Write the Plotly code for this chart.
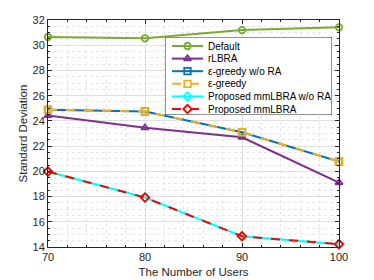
import plotly.graph_objects as go

users = [70, 80, 90, 100]
default_sd = [30.65, 30.55, 31.2, 31.42]
rlbra_sd = [24.42, 23.45, 22.7, 19.1]
eps_wo_ra_sd = [24.88, 24.75, 23.1, 20.77]
eps_sd = [24.88, 24.75, 23.1, 20.77]
prop_wo_ra_sd = [19.98, 17.92, 14.85, 14.22]
prop_sd = [19.98, 17.92, 14.85, 14.22]

names = ["Default", "rLBRA", "ε-greedy w/o RA", "ε-greedy",
         "Proposed mmLBRA w/o RA", "Proposed mmLBRA"]
colors = ["#77AC30", "#7E2F8E", "#0072BD", "#EDB120", "#00FFFF", "#FF0000"]
dashes = ["solid", "solid", "solid", "dash", "solid", "dash"]
symbols = ["circle-open", "triangle-up-open", "square-open", "square-open",
           "diamond-open", "diamond-open"]
series = [default_sd, rlbra_sd, eps_wo_ra_sd, eps_sd, prop_wo_ra_sd, prop_sd]

FONT = "Liberation Sans, Arial, Helvetica, sans-serif"

fig = go.Figure()
for name, col, dsh, sym, vals in zip(names, colors, dashes, symbols, series):
    fig.add_trace(go.Scatter(
        x=users, y=vals, name=name, mode="lines+markers",
        line=dict(color=col, width=2, dash=dsh),
        marker=dict(symbol=sym, size=6.5, color=col, line=dict(color=col, width=1.8)),
        showlegend=False, xaxis="x", yaxis="y", cliponaxis=False))

# custom compact legend drawn on an inset axis (units: pixels inside the box)
box_w, box_h = 167, 78
row0, row_step = 9, 12.6
for i, (name, col, dsh, sym) in enumerate(zip(names, colors, dashes, symbols)):
    ry = row0 + row_step * i
    fig.add_trace(go.Scatter(
        x=[7, 38], y=[ry, ry], mode="lines",
        line=dict(color=col, width=2, dash=dsh),
        showlegend=False, hoverinfo="skip", xaxis="x2", yaxis="y2"))
    fig.add_trace(go.Scatter(
        x=[22.5], y=[ry], mode="markers",
        marker=dict(symbol=sym, size=6.5, color=col, line=dict(color=col, width=1.8)),
        showlegend=False, hoverinfo="skip", xaxis="x2", yaxis="y2"))
    fig.add_annotation(x=41, y=ry, xref="x2", yref="y2", text=name,
                       showarrow=False, xanchor="left", yanchor="middle",
                       font=dict(family=FONT, size=10, color="#000000"))

fig.add_shape(type="rect", xref="x2", yref="y2", x0=0, x1=box_w, y0=0, y1=box_h,
              fillcolor="white", line=dict(color="#262626", width=1), layer="below")

axis_common = dict(
    showline=True, linecolor="#262626", linewidth=1, mirror="ticks",
    ticks="inside", ticklen=4, tickcolor="#262626",
    showgrid=True, gridcolor="#DFDFDF", gridwidth=1,
    zeroline=False, automargin=False,
    tickfont=dict(family=FONT, size=11, color="#262626"),
)

# page body has an 8px margin, so the figure is laid out 8px smaller
fig.update_layout(
    width=366, height=272,
    margin=dict(l=40, r=35, t=12, b=33),
    paper_bgcolor="white", plot_bgcolor="white",
    font=dict(family=FONT, color="#262626"),
    xaxis=dict(range=[70, 100], dtick=10, tick0=70,
               minor=dict(dtick=2, showgrid=True, gridcolor="#E6E6E6",
                          griddash="dot", ticks="inside", ticklen=2,
                          tickcolor="#262626"),
               title=dict(text="The Number of Users", standoff=5,
                          font=dict(family=FONT, size=11.5, color="#262626")),
               **axis_common),
    yaxis=dict(range=[14, 32], dtick=2, tick0=14,
               minor=dict(dtick=0.5, showgrid=True, gridcolor="#E6E6E6",
                          griddash="dot", ticks="inside", ticklen=2,
                          tickcolor="#262626"),
               title=dict(text="Standard Deviation", standoff=2,
                          font=dict(family=FONT, size=11.5, color="#262626")),
               **axis_common),
    xaxis2=dict(domain=[(165 - 48) / 291, (332 - 48) / 291], range=[0, box_w],
                visible=False, fixedrange=True, anchor="y2"),
    yaxis2=dict(domain=[(247 - 115) / 227, (247 - 37) / 227], range=[box_h, 0],
                visible=False, fixedrange=True, anchor="x2"),
)

fig.write_html("out.html")
